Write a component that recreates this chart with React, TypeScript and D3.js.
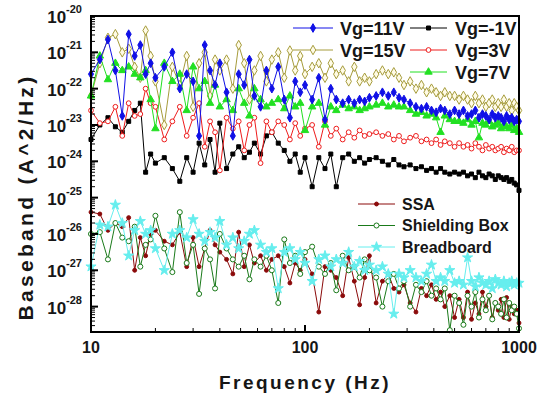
import React from "react";
import * as d3 from "d3";

// frequency grid (Hz)
const freqs = [
  10, 11, 12, 13, 14, 15, 16, 17, 18, 19, 20,
  22, 24, 26, 28, 30, 32, 34, 36, 38, 40,
  43, 46, 49, 52, 55, 58, 62, 66, 70,
  75, 80, 85, 90, 95, 100,
  108, 116, 124, 132, 140, 150, 160, 170, 180, 190, 200,
  215, 230, 245, 260, 275, 290, 310, 330, 350, 370, 390, 410, 430, 450, 475, 500,
  525, 550, 575, 600, 625, 650, 675, 700, 725, 750, 775, 800, 825, 850, 875, 900, 925, 950, 975, 1000,
];

// log10 of baseband noise (A^2/Hz)
const vg11 = [
  -21.6, -21.2, -20.65, -21.5, -22.75, -20.5, -21.1, -20.8, -21.6, -21.3, -21.7,
  -21.4, -21.0, -22.0, -21.6, -21.8, -23.3, -20.8, -21.5, -21.9, -21.3,
  -22.1, -23.3, -21.6, -21.9, -21.2, -22.2, -22.5, -21.5, -22.0,
  -21.4, -22.3, -22.8, -21.8, -22.1, -21.9,
  -22.3, -21.7, -22.85, -22.0, -22.3, -22.4, -22.3, -22.4, -22.3, -22.35, -22.25,
  -22.2, -22.1, -22.2, -22.1, -22.25, -22.3, -22.4, -22.5, -22.55, -22.5, -22.6, -22.65, -22.55, -22.6, -22.7, -22.6,
  -22.7, -22.6, -22.75, -22.7, -22.6, -22.8, -22.7, -22.75, -22.85, -22.7, -22.8, -22.75, -22.8, -22.9, -22.75, -22.85, -22.8, -22.9, -22.85, -22.9,
];
const vgM1 = [
  -23.4, -23.0, -22.8, -23.05, -23.2, -22.9, -22.6, -22.4, -24.3, -23.8, -24.05,
  -23.9, -24.2, -24.55, -23.9, -24.3, -23.5, -24.1, -23.4, -24.3, -22.95,
  -24.2, -23.8, -23.6, -23.9, -23.75, -23.5, -23.8, -23.3, -23.2,
  -23.5, -23.7, -24.0, -23.8, -24.3, -23.9,
  -24.7, -23.9, -24.2, -23.8, -24.7, -23.9, -23.8, -24.0, -23.9, -24.05, -23.95,
  -23.9, -24.0, -24.1, -23.95, -24.1, -24.15, -24.1, -24.2, -24.15, -24.25, -24.2, -24.3, -24.2, -24.3, -24.35, -24.3,
  -24.35, -24.3, -24.4, -24.35, -24.45, -24.3, -24.4, -24.45, -24.35, -24.4, -24.5, -24.4, -24.45, -24.5, -24.45, -24.55, -24.5, -24.6, -24.65, -24.8,
];
const vg15 = [
  -22.2, -21.3, -20.6, -20.5, -21.0, -20.9, -21.4, -21.7, -20.4, -21.1, -21.8,
  -23.0, -21.4, -21.9, -21.1, -22.5, -21.3, -21.0, -22.2, -21.2, -21.5,
  -21.2, -22.0, -20.8, -21.3, -22.3, -21.5, -21.1, -21.8, -21.2,
  -21.0, -21.7, -20.95, -21.5, -21.1, -21.6,
  -21.4, -21.3, -21.7, -21.3, -21.6, -21.5, -21.8, -21.4, -21.8, -21.7, -21.8,
  -21.6, -21.5, -21.6, -21.55, -21.7, -21.9, -21.8, -22.0, -21.9, -22.1, -22.0, -22.1, -22.2, -22.1, -22.2, -22.2,
  -22.3, -22.2, -22.3, -22.4, -22.2, -22.4, -22.3, -22.5, -22.4, -22.3, -22.5, -22.4, -22.5, -22.3, -22.5, -22.4, -22.6, -22.4, -22.5, -22.6,
];
const vg3 = [
  -22.6, -22.95, -22.9, -22.5, -23.3, -22.4, -22.75, -22.7, -22.0, -22.4, -22.5,
  -23.4, -22.9, -22.5, -23.3, -22.8, -22.4, -23.6, -22.9, -23.2, -24.25,
  -22.8, -23.1, -22.9, -23.7, -23.0, -22.8, -24.05, -22.9, -23.2,
  -22.9, -23.0, -23.4, -22.95, -23.3, -23.1,
  -23.0, -23.6, -22.9, -23.3, -23.1, -23.4, -23.2, -23.35, -23.15, -23.3, -23.25,
  -23.2, -23.3, -23.25, -23.4, -23.3, -23.45, -23.35, -23.3, -23.45, -23.4, -23.5, -23.4, -23.55, -23.45, -23.5, -23.6,
  -23.5, -23.6, -23.55, -23.65, -23.5, -23.6, -23.7, -23.55, -23.65, -23.6, -23.7, -23.65, -23.6, -23.75, -23.65, -23.7, -23.6, -23.75, -23.7, -23.7,
];
const vg7 = [
  -22.2, -21.1, -21.75, -21.3, -21.5, -21.4, -21.6, -21.7, -21.5, -22.3, -23.1,
  -21.3, -21.8, -21.6, -22.6, -21.4, -22.0, -21.8, -22.4, -21.9, -22.5,
  -22.3, -22.6, -22.0, -22.4, -22.75, -22.0, -22.3, -22.5, -22.4,
  -22.3, -22.55, -22.2, -22.5, -22.4, -23.15,
  -22.5, -22.4, -23.0, -22.5, -22.6, -22.45, -22.55, -22.5, -22.6, -22.55, -22.5,
  -22.45, -22.4, -22.5, -22.45, -22.5, -22.5, -22.6, -22.7, -22.65, -22.75, -22.7, -22.8, -23.2, -22.75, -22.85, -22.9,
  -22.9, -22.95, -22.85, -23.0, -22.9, -23.35, -22.95, -23.0, -22.9, -23.05, -23.0, -22.95, -23.1, -23.0, -23.05, -23.1, -23.0, -23.15, -23.1, -23.2,
];
const ssa = [
  -25.4, -25.45, -25.9, -25.7, -25.8, -25.55, -27.0, -26.1, -26.6, -26.0, -25.9,
  -26.2, -26.3, -25.95, -26.9, -26.1, -26.9, -26.4, -25.9, -26.3, -26.5,
  -26.7, -27.1, -25.95, -26.9, -26.3, -26.8, -26.6, -27.0, -26.7,
  -26.6, -26.9, -27.35, -26.8, -27.0, -26.7,
  -27.1, -28.15, -26.9, -27.0, -27.2, -27.7, -26.65, -27.3, -27.95, -27.2, -26.6,
  -27.9, -27.3, -27.1, -27.5, -27.6, -27.4, -27.9, -28.15, -27.5, -27.7, -27.4, -27.8, -27.6, -28.0, -27.7, -28.3,
  -27.8, -28.3, -27.6, -28.35, -27.9, -28.2, -27.6, -28.0, -27.7, -28.3, -27.9, -28.1, -27.8, -28.3, -27.75, -28.35, -28.0, -28.2, -28.1, -28.45,
];
const shielding = [
  -26.0, -25.95, -26.7, -25.7, -26.1, -26.2, -25.8, -26.9, -26.3, -26.15, -25.5,
  -26.4, -27.05, -25.4, -26.8, -26.3, -27.65, -26.4, -26.7, -27.5, -26.0,
  -26.4, -26.7, -26.9, -26.6, -27.25, -26.7, -26.9, -26.6, -27.0,
  -27.9, -26.15, -26.8, -26.6, -27.1, -26.5,
  -26.35, -26.9, -27.1, -26.8, -27.55, -26.6, -27.0, -26.9, -27.2, -26.7, -27.0,
  -27.2, -28.0, -27.3, -27.1, -27.5, -27.3, -28.0, -27.4, -27.6, -27.3, -27.7, -27.5, -27.8, -27.5, -28.65, -27.7,
  -27.9, -28.5, -27.7, -28.0, -27.6, -28.3, -27.8, -28.1, -27.7, -28.35, -27.9, -28.0, -28.2, -27.8, -28.3, -27.9, -28.1, -28.0, -28.2, -28.6,
];
const breadboard = [
  -26.9, -25.75, -25.8, -25.2, -25.7, -26.6, -25.9, -25.65, -26.0, -25.9, -26.4,
  -27.0, -26.0, -25.9, -26.1, -25.6, -26.0, -26.2, -25.95, -26.1, -25.65,
  -26.3, -26.1, -26.4, -26.2, -26.0, -25.9, -26.3, -26.5, -26.4,
  -27.5, -26.5, -26.4, -26.7, -26.5, -26.8,
  -27.3, -26.7, -26.6, -26.9, -26.7, -26.8, -26.5, -26.9, -26.75, -27.0, -26.85,
  -27.0, -26.9, -27.1, -28.2, -27.1, -27.2, -27.0, -27.2, -27.3, -27.1, -26.85, -27.3, -27.2, -27.3, -27.0, -27.35,
  -27.3, -27.4, -26.65, -27.3, -27.45, -27.2, -27.35, -27.4, -27.3, -27.5, -27.25, -27.35, -27.4, -27.3, -27.45, -27.35, -27.3, -27.4, -27.35, -27.35,
];

const yDecades = [-28, -27, -26, -25, -24, -23, -22, -21, -20];
const xMajor = [10, 100, 1000];

const series = [
  { name: "SSA", vals: ssa, color: "#8b0a0a", fill: "#8b0a0a", sym: d3.symbolCircle, size: 12 },
  { name: "Shielding Box", vals: shielding, color: "#1a7a1a", fill: "#ffffff", sym: d3.symbolCircle, size: 20 },
  { name: "Breadboard", vals: breadboard, color: "#66eeee", fill: "#66eeee", sym: d3.symbolStar, size: 32 },
  { name: "Vg=-1V", vals: vgM1, color: "#000000", fill: "#000000", sym: d3.symbolSquare, size: 16 },
  { name: "Vg=3V", vals: vg3, color: "#ee1c1c", fill: "#ffffff", sym: d3.symbolCircle, size: 18 },
  { name: "Vg=15V", vals: vg15, color: "#a69c3c", fill: "#fffbe6", sym: d3.symbolDiamond, size: 26 },
  { name: "Vg=7V", vals: vg7, color: "#22e022", fill: "#22e022", sym: d3.symbolTriangle, size: 24 },
  { name: "Vg=11V", vals: vg11, color: "#1010e6", fill: "#1010e6", sym: d3.symbolDiamond, size: 22 },
];

const legendTop = [
  { name: "Vg=11V", col: 0, row: 0 },
  { name: "Vg=15V", col: 0, row: 1 },
  { name: "Vg=-1V", col: 1, row: 0 },
  { name: "Vg=3V", col: 1, row: 1 },
  { name: "Vg=7V", col: 1, row: 2 },
];
const legendBottom = ["SSA", "Shielding Box", "Breadboard"];

const W = 548;
const H = 397;
const L = 91, R = 519, T = 16, B = 332;
const font = "'Liberation Sans', Arial, sans-serif";
const ink = "#161616";

const App = () => {
  const x = d3.scaleLog().domain([10, 1000]).range([L, R]);
  const y = d3.scaleLog().domain([2e-29, 1e-20]).range([B, T]);
  const yv = (v: number) => y(Math.pow(10, v));

  const line = d3
    .line<number>()
    .x((_, i) => x(freqs[i]))
    .y((v) => yv(v));

  const byName = (n: string) => series.find((s) => s.name === n)!;

  const marker = (s: any, cx: number, cy: number, key: any) => (
    <path
      key={key}
      d={d3.symbol().type(s.sym).size(s.size)()!}
      transform={`translate(${cx},${cy})`}
      fill={s.fill}
      stroke={s.color}
      strokeWidth={1}
    />
  );

  // minor ticks
  const yMinor: number[] = [];
  for (let e = -29; e < -20; e++) {
    for (let m = 2; m <= 9; m++) {
      const v = m * Math.pow(10, e);
      if (v >= 2e-29 && v <= 1e-20) yMinor.push(v);
    }
  }
  const xMinor: number[] = [];
  [10, 100].forEach((b) => {
    for (let m = 2; m <= 9; m++) xMinor.push(m * b);
  });

  return (
    <div style={{ position: "fixed", left: 0, top: 0 }}>
      <svg width={W} height={H} style={{ display: "block", background: "#fff" }}>
        <g>
          {series.map((s) => (
            <g key={s.name}>
              <path d={line(s.vals)!} fill="none" stroke={s.color} strokeWidth={1} />
              {s.vals.map((v, i) => marker(s, x(freqs[i]), yv(v), i))}
            </g>
          ))}
        </g>

        {/* axes frame and ticks */}
        <rect x={L} y={T} width={R - L} height={B - T} fill="none" stroke="#000" strokeWidth={2} />
        {yDecades.map((e) => (
          <line key={"yt" + e} x1={L} x2={L + 7} y1={yv(e)} y2={yv(e)} stroke="#000" strokeWidth={2} />
        ))}
        {yMinor.map((v, i) => (
          <line key={"ym" + i} x1={L} x2={L + 4} y1={y(v)} y2={y(v)} stroke="#000" strokeWidth={1} />
        ))}
        {xMajor.map((f) => (
          <line key={"xt" + f} x1={x(f)} x2={x(f)} y1={B} y2={B - 7} stroke="#000" strokeWidth={2} />
        ))}
        {xMinor.map((f) => (
          <line key={"xm" + f} x1={x(f)} x2={x(f)} y1={B} y2={B - 4} stroke="#000" strokeWidth={1} />
        ))}

        {/* tick labels */}
        {yDecades.map((e) => (
          <text
            key={"yl" + e}
            x={82}
            y={yv(e) + 7}
            textAnchor="end"
            fontFamily={font}
            fontWeight="bold"
            fontSize={17}
            fill={ink}
          >
            10
            <tspan fontSize={11} dy={-10}>
              {e}
            </tspan>
          </text>
        ))}
        {xMajor.map((f) => (
          <text
            key={"xl" + f}
            x={x(f)}
            y={353}
            textAnchor="middle"
            fontFamily={font}
            fontWeight="bold"
            fontSize={16}
            fill={ink}
          >
            {f}
          </text>
        ))}

        {/* axis titles */}
        <text
          x={305}
          y={389}
          textAnchor="middle"
          fontFamily={font}
          fontWeight="bold"
          fontSize={19}
          letterSpacing={2.5}
          fill={ink}
        >
          Frequency (Hz)
        </text>
        <text
          transform="translate(33,197) rotate(-90)"
          textAnchor="middle"
          fontFamily={font}
          fontWeight="bold"
          fontSize={21}
          letterSpacing={3.3}
          fill={ink}
        >
          Baseband (A^2/Hz)
        </text>

        {/* legends */}
        {legendTop.map((d) => {
          const s = byName(d.name);
          const x1 = d.col === 0 ? 293 : 410;
          const x2 = d.col === 0 ? 333 : 447;
          const tx = d.col === 0 ? 340 : 455;
          const cy = 28 + d.row * 22;
          return (
            <g key={"lg" + d.name}>
              <line x1={x1} x2={x2} y1={cy} y2={cy} stroke={s.color} strokeWidth={1} />
              {marker(s, (x1 + x2) / 2, cy, "m")}
              <text x={tx} y={cy + 6.5} fontFamily={font} fontWeight="bold" fontSize={18} fill={ink}>
                {d.name}
              </text>
            </g>
          );
        })}
        {legendBottom.map((n, i) => {
          const s = byName(n);
          const cy = 204 + i * 21.5;
          return (
            <g key={"lb" + n}>
              <line x1={358} x2={395} y1={cy} y2={cy} stroke={s.color} strokeWidth={1} />
              {marker(s, 376.5, cy, "m")}
              <text x={402} y={cy + 5.5} fontFamily={font} fontWeight="bold" fontSize={16} fill={ink}>
                {n}
              </text>
            </g>
          );
        })}
      </svg>
    </div>
  );
};

export default App;
